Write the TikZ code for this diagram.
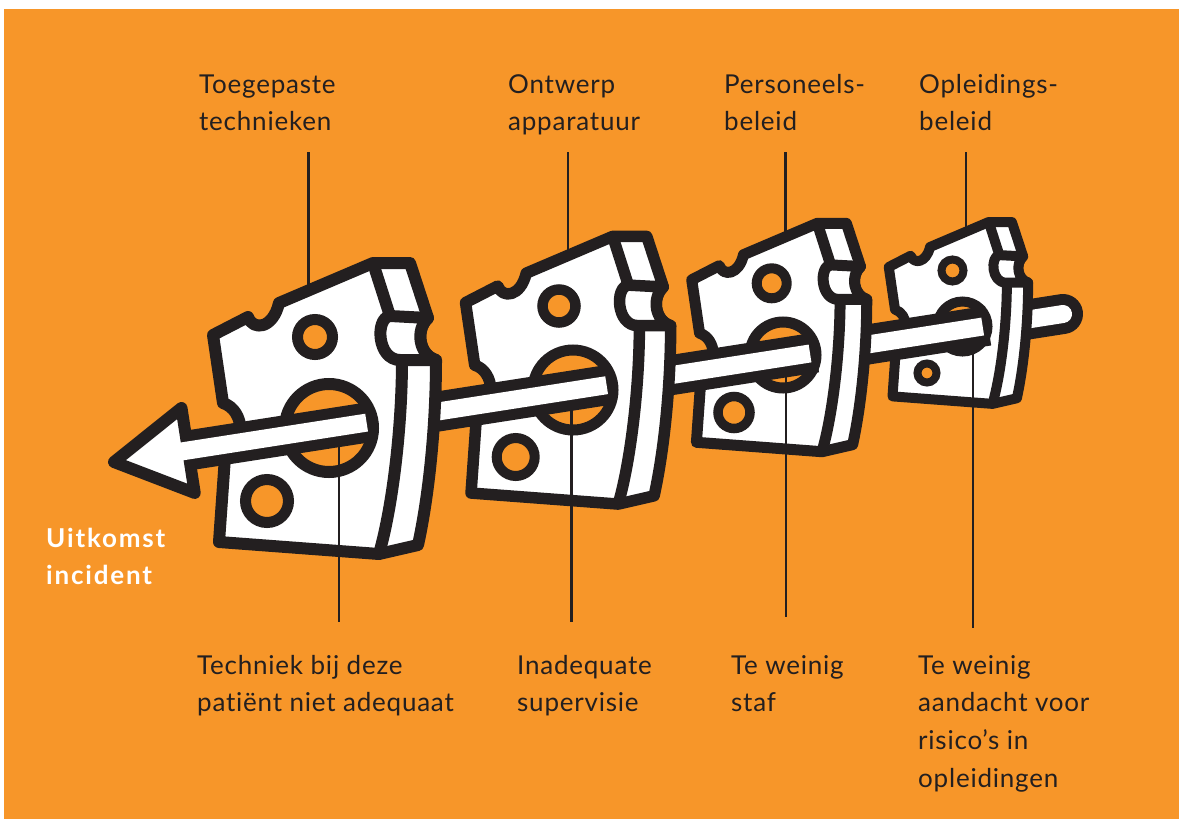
\documentclass[tikz,border=0pt]{standalone}
\usepackage{fontspec}
\setmainfont{Lato}[LetterSpace=3, RawFeature={-liga;-dlig}]
\usetikzlibrary{calc}
\definecolor{bg}{RGB}{247,150,41}
\definecolor{ink}{RGB}{35,31,32}
\newcommand\cheeseshape[1]{%
  \draw[ink, fill=white, line width=#1, line join=round]
    (6,80) -- (41,62) .. controls (46,76) and (66,74) .. (72,48)
    -- (166,8) -- (203,8) -- (221,63)
    .. controls (208,75) and (212,100) .. (229,105)
    .. controls (229,170) and (222,240) .. (211,290)
    -- (172,299) -- (12,287) -- (18,202)
    .. controls (40,192) and (38,155) .. (16,148) -- cycle;
  \draw[ink, line width=#1, line join=round] (166,8) -- (183,61);
  \draw[ink, fill=white, line width=#1, line join=round]
    (183,61) -- (221,63) .. controls (208,75) and (212,100) .. (229,105)
    -- (193,105) .. controls (170,105) and (168,63) .. (183,61) -- cycle;
  \draw[ink, line width=#1] (195,105) .. controls (195,170) and (186,250) .. (172,299);
}
\begin{document}
\begin{tikzpicture}[x=1pt,y=-1pt,
  lbl/.style={anchor=base west, inner sep=0pt, text=ink,
    font=\fontsize{26}{37.8}\selectfont},
  blbl/.style={anchor=base west, inner sep=0pt, text=white,
    font=\bfseries\fontsize{26}{37.3}\selectfont\addfontfeatures{LetterSpace=7}},
  guide/.style={ink, line width=2.2pt},
  hole/.style={ink, fill=bg},
  rodout/.style={ink, line width=40pt},
  rodin/.style={white, line width=18pt}]
\useasboundingbox (0,0) rectangle (1183,819);
\fill[white] (0,0) rectangle (1183,819);
\fill[bg] (4,9) rectangle (1179,819);

% rod axis
\coordinate (A) at (114,462);
\coordinate (B) at (1063,314);
% hole centres
\coordinate (h1) at (329,428);
\coordinate (h2) at (573,390);
\coordinate (h3) at (783,355);
\coordinate (h4) at (962.5,326.5);
\coordinate (p1) at ($(A)!(h1)!(B)$);
\coordinate (p2) at ($(A)!(h2)!(B)$);
\coordinate (p3) at ($(A)!(h3)!(B)$);
\coordinate (p4) at ($(A)!(h4)!(B)$);
\coordinate (ab) at ($(A)!75pt!(B)$);

% labels
\node[lbl] (l1) at (199,93) {\vtop{\hbox{Toegepaste}\hbox{technieken}}};
\node[lbl] (l2) at (508,93) {\vtop{\hbox{Ontwerp}\hbox{apparatuur}}};
\node[lbl] (l3) at (724,93) {\vtop{\hbox{Personeels-}\hbox{beleid}}};
\node[lbl] (l4) at (919,93) {\vtop{\hbox{Opleidings-}\hbox{beleid}}};
\node[lbl] (b1) at (197,674) {\vtop{\hbox{Techniek bij deze}\hbox{patiënt niet adequaat}}};
\node[lbl] (b2) at (517,674) {\vtop{\hbox{Inadequate}\hbox{supervisie}}};
\node[lbl] (b3) at (731,674) {\vtop{\hbox{Te weinig}\hbox{staf}}};
\node[lbl] (b4) at (918,674) {\vtop{\hbox{Te weinig}\hbox{aandacht voor}\hbox{risico’s in}\hbox{opleidingen}}};
\node[blbl] (out) at (46,547) {\vtop{\hbox{Uitkomst}\hbox{incident}}};

% upper guide lines (behind the cheeses)
\coordinate (u1a) at (308.5,152); \coordinate (u1b) at (308.5,300);
\coordinate (u2a) at (568,152);   \coordinate (u2b) at (568,280);
\coordinate (u3a) at (785.5,152); \coordinate (u3b) at (785.5,260);
\coordinate (u4a) at (966,152);   \coordinate (u4b) at (966,260);
\draw[guide] (u1a) -- (u1b);
\draw[guide] (u2a) -- (u2b);
\draw[guide] (u3a) -- (u3b);
\draw[guide] (u4a) -- (u4b);
% lower guide line ends
\coordinate (d1a) at (339,428);   \coordinate (d1b) at (339,622);
\coordinate (d2a) at (571.5,390); \coordinate (d2b) at (571.5,622);
\coordinate (d3a) at (786,355);   \coordinate (d3b) at (786,617);
\coordinate (d4a) at (973,328);   \coordinate (d4b) at (973,628);

% rod, rear part
\draw[rodout, line cap=round] (B) -- (p4);
\draw[rodin, line cap=round] (B) -- (p4);

% cheese 4
\begin{scope}[shift={(885,217)}, scale=0.625]
  \cheeseshape{10pt}
\end{scope}
\draw[hole, line width=8pt] (952.5,270.5) circle[radius=11];
\draw[hole, line width=10pt] (h4) circle[radius=25];
\draw[hole, line width=8pt] (927,373) circle[radius=9.5];
\draw[guide] (d4a) -- (d4b);
\draw[rodout] ($(p4)!25.5pt!(B)$) -- (p3);
\draw[rodin] ($(p4)!20pt!(B)$) -- (p3);

% cheese 3
\begin{scope}[shift={(687,217)}, scale=0.785]
  \cheeseshape{11pt}
\end{scope}
\draw[hole, line width=10pt] (771.7,283.3) circle[radius=15];
\draw[hole, line width=11pt] (h3) circle[radius=33];
\draw[hole, line width=9.5pt] (734,412.5) circle[radius=16];
\draw[guide] (d3a) -- (d3b);
\draw[rodout] ($(p3)!33pt!(B)$) -- (p2);
\draw[rodin] ($(p3)!27pt!(B)$) -- (p2);

% cheese 2
\begin{scope}[shift={(460,229)}, scale=0.92]
  \cheeseshape{11.5pt}
\end{scope}
\draw[hole, line width=10.5pt] (559,306) circle[radius=16.5];
\draw[hole, line width=11pt] (h2) circle[radius=40];
\draw[hole, line width=10pt] (515.7,457) circle[radius=19];
\draw[guide] (d2a) -- (d2b);
\draw[rodout] ($(p2)!40pt!(B)$) -- (p1);
\draw[rodin] ($(p2)!34pt!(B)$) -- (p1);

% cheese 1
\begin{scope}[shift={(207,255)}, scale=1]
  \cheeseshape{12pt}
\end{scope}
\draw[hole, line width=11pt] (315,337) circle[radius=17.5];
\draw[hole, line width=12pt] (h1) circle[radius=44];
\draw[hole, line width=11pt] (267,501) circle[radius=21.5];
\draw[guide] (d1a) -- (d1b);

% front rod with arrow head
\draw[rodout] ($(p1)!44pt!(B)$) -- (ab);
\draw[ink, fill=white, line width=12pt, line join=round]
  (A) -- ($(ab)!43pt!90:(A)$) -- ($(ab)!43pt!-90:(A)$) -- cycle;
\draw[rodin] ($(p1)!38pt!(B)$) -- ($(ab)!12pt!(A)$);
\end{tikzpicture}
\end{document}
